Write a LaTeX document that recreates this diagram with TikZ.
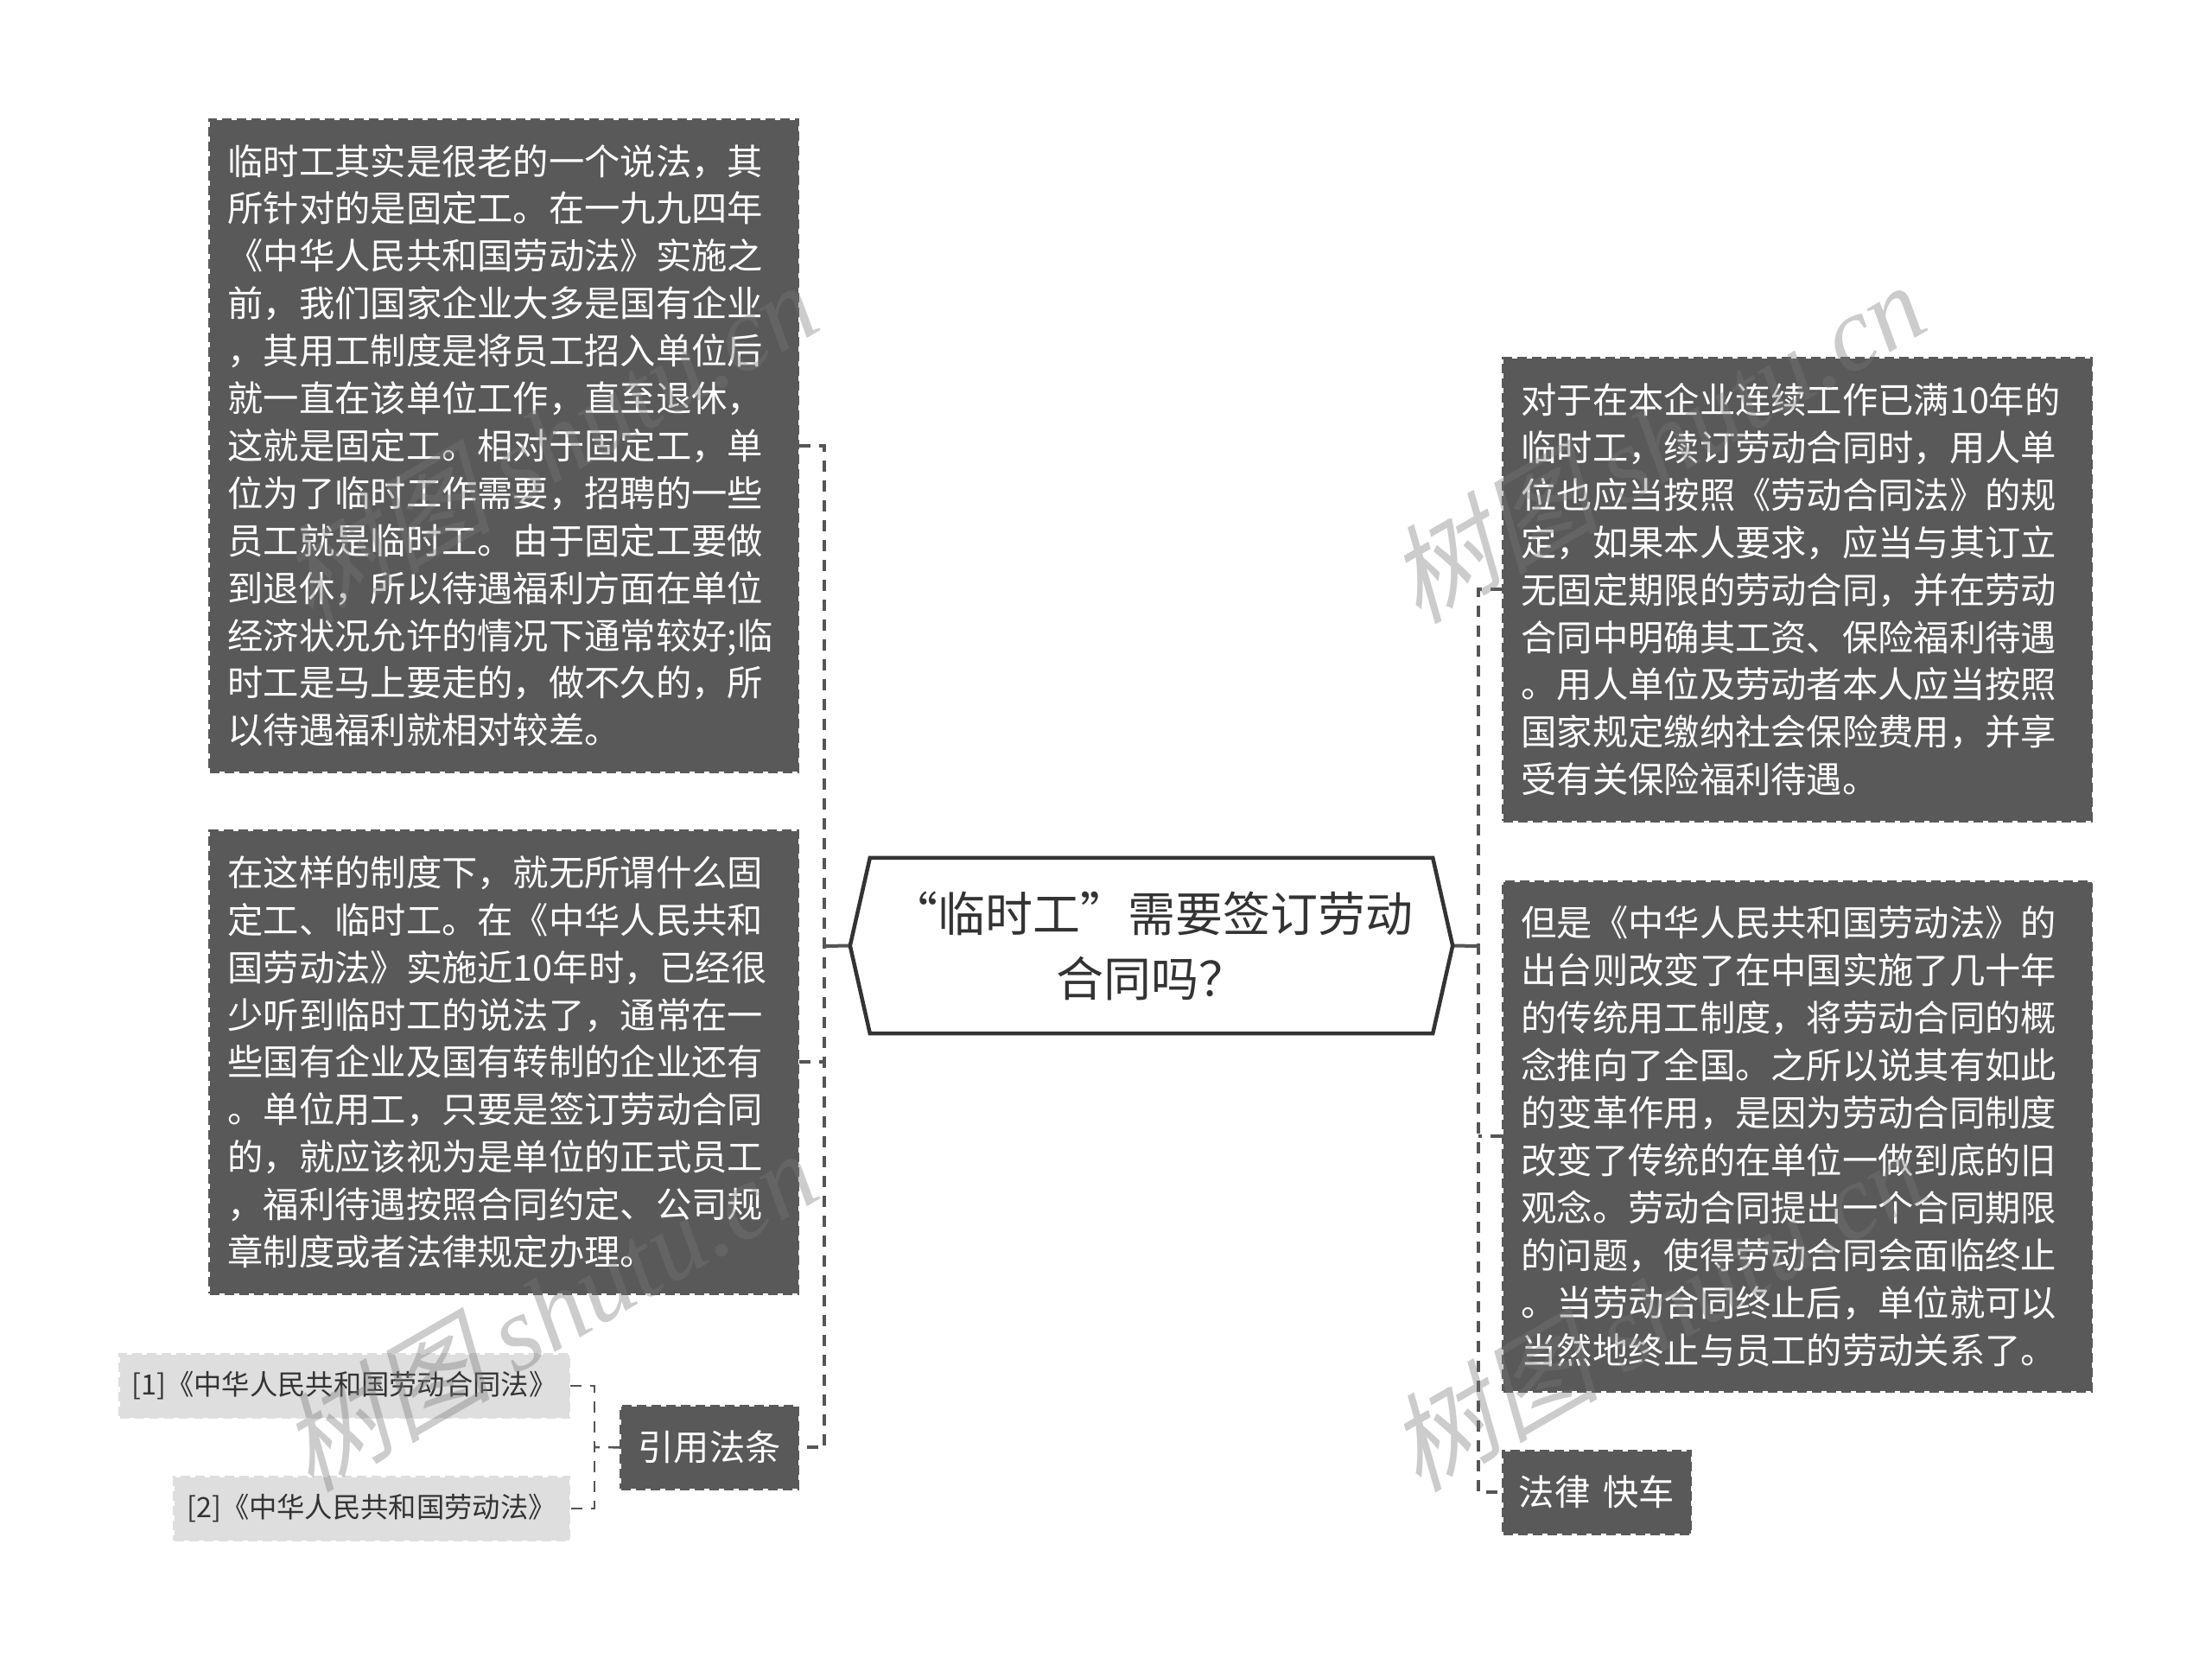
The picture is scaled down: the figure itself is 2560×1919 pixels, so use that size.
\documentclass[tikz,border=0pt]{standalone}
\usepackage{fontspec}
\setmainfont{Noto Sans CJK SC}
\newfontfamily\wmcjk[FakeSlant=0.25]{Noto Sans CJK SC}
\newfontfamily\wmlat{Liberation Serif}
\definecolor{boxdark}{HTML}{595959}
\definecolor{boxlight}{HTML}{DEDEDE}
\definecolor{ink}{HTML}{333333}
\definecolor{linegray}{HTML}{555555}
\definecolor{wmgray}{HTML}{787878}
\tikzset{
  darkbox/.style={anchor=north west,fill=boxdark,draw=boxdark,line width=3pt,dash pattern=on 11pt off 6pt,text=white,
    inner xsep=21pt,inner ysep=0pt,text width=#1,align=left,font=\fontsize{41.3}{54.9}\selectfont},
  tagbox/.style={anchor=north west,fill=boxdark,draw=boxdark,line width=3pt,dash pattern=on 11pt off 6pt,text=white,
    inner sep=0pt,align=center,font=\fontsize{41.3}{54.9}\selectfont},
  refbox/.style={anchor=north west,fill=boxlight,draw=boxlight,line width=3pt,dash pattern=on 11pt off 6pt,text=ink,
    inner sep=0pt,align=center,font=\fontsize{32.3}{40}\selectfont},
  title/.style={inner sep=0pt,text=ink,align=center,font=\fontsize{55}{75}\selectfont},
  hexline/.style={draw=ink,fill=white,line width=4.5pt,line join=miter},
  conn/.style={draw=linegray,line width=4pt,dash pattern=on 13pt off 10pt},
  connthin/.style={draw=linegray,line width=2.6pt,dash pattern=on 13pt off 10pt},
  stub/.style={draw=linegray,line width=4pt},
  wmark/.style={rotate=30,text=wmgray,text opacity=0.38,inner sep=0pt,font=\fontsize{123}{123}\selectfont},
}
\begin{document}
\begin{tikzpicture}[x=1pt,y=-1pt]
\useasboundingbox (0,0) rectangle (2560,1919);
\coordinate (tl) at (954,1095);
\coordinate (tr) at (1711,1095);
\coordinate (ts) at (688,1675);

\node[minimum width=697pt,minimum height=203pt,inner sep=0pt] (hex) at (1332.5,1094.5) {};
\node[darkbox=639pt,minimum height=754.5pt] (b1) at (241,137) {临时工其实是很老的一个说法，其\\所针对的是固定工。在一九九四年\\《中华人民共和国劳动法》实施之\\前，我们国家企业大多是国有企业\\，其用工制度是将员工招入单位后\\就一直在该单位工作，直至退休，\\这就是固定工。相对于固定工，单\\位为了临时工作需要，招聘的一些\\员工就是临时工。由于固定工要做\\到退休，所以待遇福利方面在单位\\经济状况允许的情况下通常较好;临\\时工是马上要走的，做不久的，所\\以待遇福利就相对较差。};
\node[darkbox=639pt,minimum height=535.5pt] (b2) at (241,960) {在这样的制度下，就无所谓什么固\\定工、临时工。在《中华人民共和\\国劳动法》实施近10年时，已经很\\少听到临时工的说法了，通常在一\\些国有企业及国有转制的企业还有\\。单位用工，只要是签订劳动合同\\的，就应该视为是单位的正式员工\\，福利待遇按照合同约定、公司规\\章制度或者法律规定办理。};
\node[tagbox,minimum width=205pt,minimum height=95.5pt] (law) at (717,1626) {引用法条};
\node[refbox,minimum width=520pt,minimum height=73pt] (r1) at (137,1566) {[1]《中华人民共和国劳动合同法》};
\node[refbox,minimum width=457pt,minimum height=73pt] (r2) at (200,1708) {[2]《中华人民共和国劳动法》};
\node[darkbox=639pt,minimum height=535.5pt] (b3) at (1738,413) {对于在本企业连续工作已满10年的\\临时工，续订劳动合同时，用人单\\位也应当按照《劳动合同法》的规\\定，如果本人要求，应当与其订立\\无固定期限的劳动合同，并在劳动\\合同中明确其工资、保险福利待遇\\。用人单位及劳动者本人应当按照\\国家规定缴纳社会保险费用，并享\\受有关保险福利待遇。};
\node[darkbox=639pt,minimum height=589.5pt] (b4) at (1738,1019) {但是《中华人民共和国劳动法》的\\出台则改变了在中国实施了几十年\\的传统用工制度，将劳动合同的概\\念推向了全国。之所以说其有如此\\的变革作用，是因为劳动合同制度\\改变了传统的在单位一做到底的旧\\观念。劳动合同提出一个合同期限\\的问题，使得劳动合同会面临终止\\。当劳动合同终止后，单位就可以\\当然地终止与员工的劳动关系了。};
\node[tagbox,minimum width=217pt,minimum height=95.5pt] (fast) at (1738,1678) {法律\hspace{15pt}快车};

% connectors
\draw[conn] (b1.east) -- (b1.east -| tl) -- (law.east -| tl) -- (law.east);
\draw[conn] (b2.east) -- (b2.east -| tl);
\draw[stub] (hex.west) -- (tl);
\draw[conn] (b3.west) -- (b3.west -| tr) -- (fast.west -| tr) -- (fast.west);
\draw[conn] (b4.west) -- (b4.west -| tr);
\draw[stub] (hex.east) -- (tr);
\draw[connthin] (r1.east) -- (r1.east -| ts) -- (r2.east -| ts) -- (r2.east);
\draw[connthin] (law.west) -- (ts);

% central hexagon outline
\draw[hexline] (hex.west) -- ([xshift=23pt]hex.north west) -- ([xshift=-23pt]hex.north east) -- (hex.east) -- ([xshift=-23pt]hex.south east) -- ([xshift=23pt]hex.south west) -- cycle;
\node[title] (hextext) at (hex) {“临时工”需要签订劳动\\合同吗？};

% watermarks
\node[wmark] (wm1) at (634,511) {{\wmcjk 树图} {\wmlat\itshape shutu.cn}};
\node[wmark] (wm2) at (1916,511) {{\wmcjk 树图} {\wmlat\itshape shutu.cn}};
\node[wmark] (wm3) at (634,1516) {{\wmcjk 树图} {\wmlat\itshape shutu.cn}};
\node[wmark] (wm4) at (1916,1516) {{\wmcjk 树图} {\wmlat\itshape shutu.cn}};
\end{tikzpicture}
\end{document}
